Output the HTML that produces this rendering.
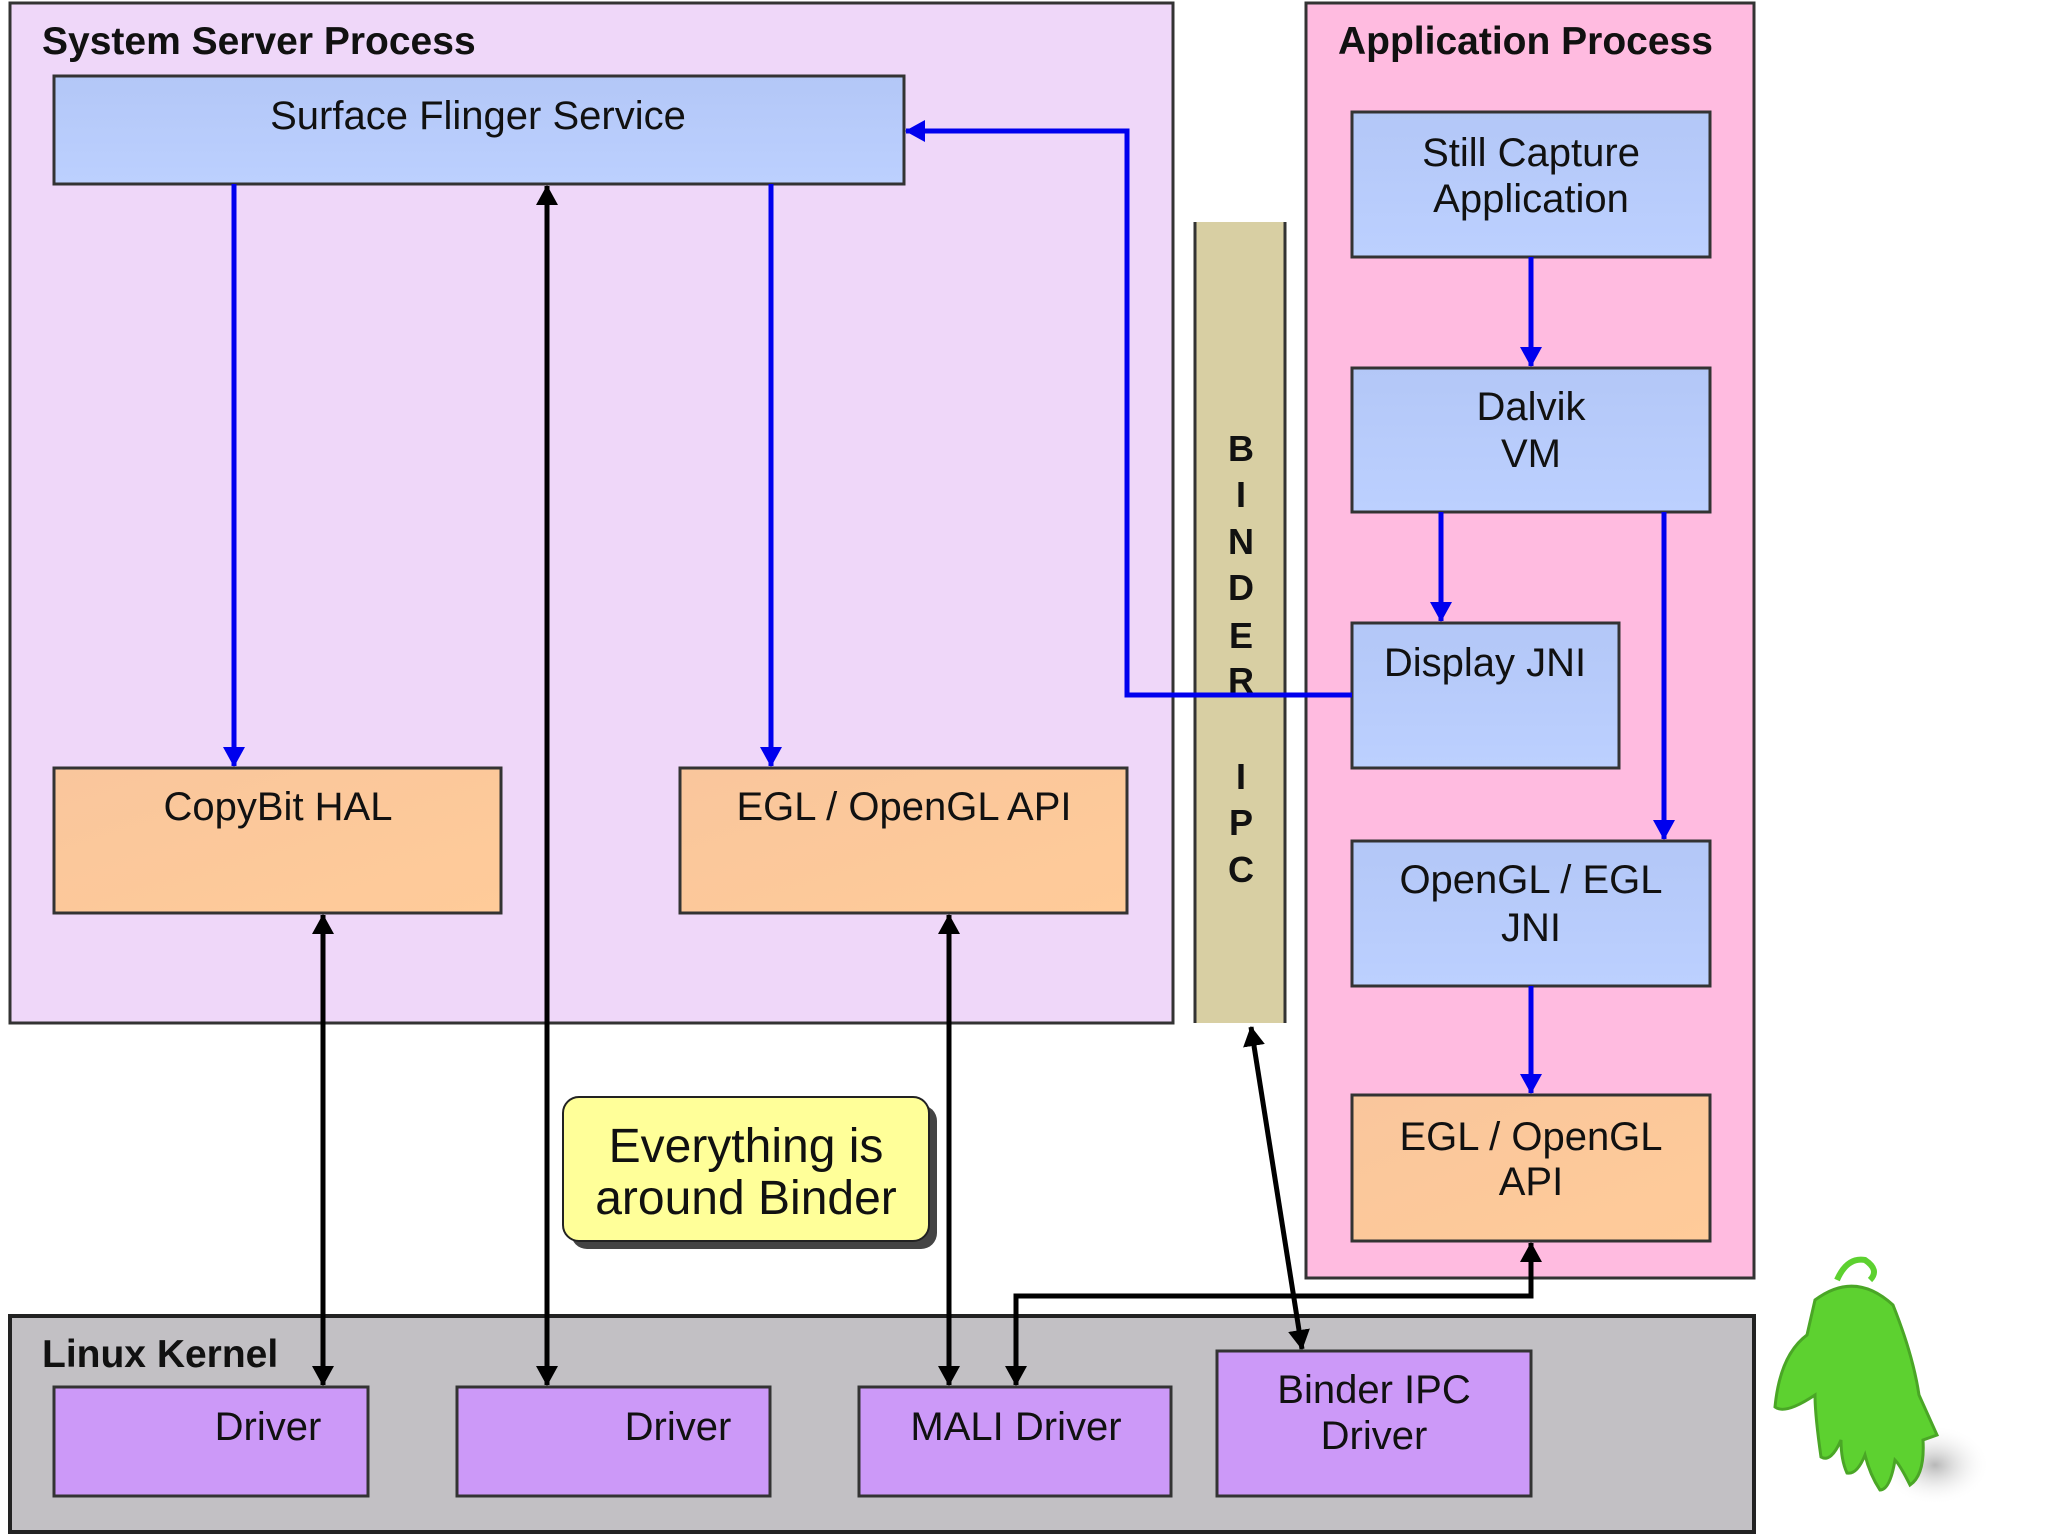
<!DOCTYPE html>
<html><head><meta charset="utf-8"><style>
html,body{margin:0;padding:0;background:#fff;}
svg{display:block;}
text{font-family:"Liberation Sans",sans-serif;fill:#111;}
</style></head><body>
<svg width="2048" height="1535" viewBox="0 0 2048 1535" xmlns="http://www.w3.org/2000/svg">
<defs>
<marker id="bh" markerWidth="20" markerHeight="22" refX="19" refY="11" orient="auto" markerUnits="userSpaceOnUse" viewBox="0 0 20 22"><path d="M0,0 L20,11 L0,22 z" fill="#0000ee"/></marker>
<marker id="kh" markerWidth="20" markerHeight="22" refX="19" refY="11" orient="auto-start-reverse" markerUnits="userSpaceOnUse" viewBox="0 0 20 22"><path d="M0,0 L20,11 L0,22 z" fill="#000"/></marker>
<linearGradient id="bl" x1="0" y1="0" x2="0" y2="1"><stop offset="0" stop-color="#b3c7f7"/><stop offset="1" stop-color="#bcd0ff"/></linearGradient>
<linearGradient id="or" x1="0" y1="0" x2="1" y2="1"><stop offset="0" stop-color="#f9c69c"/><stop offset="1" stop-color="#ffcb99"/></linearGradient>
<radialGradient id="sh"><stop offset="0" stop-color="#999" stop-opacity=".7"/><stop offset="1" stop-color="#fff" stop-opacity="0"/></radialGradient>
</defs>
<rect x="10" y="3" width="1163" height="1020" fill="#efd7f9" stroke="#333" stroke-width="3"/>
<text x="42" y="54" font-size="39" font-weight="bold">System Server Process</text>
<rect x="1306" y="3" width="448" height="1275" fill="#ffbbe0" stroke="#333" stroke-width="3"/>
<text x="1338" y="54" font-size="39" font-weight="bold">Application Process</text>
<rect x="10" y="1316" width="1744" height="216" fill="#c2c0c4" stroke="#222" stroke-width="4"/>
<text x="42" y="1367" font-size="39" font-weight="bold">Linux Kernel</text>
<rect x="1195" y="222" width="90" height="801" fill="#d8cfa3"/>
<line x1="1195" y1="222" x2="1195" y2="1023" stroke="#333" stroke-width="3"/>
<line x1="1285" y1="222" x2="1285" y2="1023" stroke="#333" stroke-width="3"/>
<g font-size="36" font-weight="bold" text-anchor="middle">
<text x="1241" y="461">B</text><text x="1241" y="507">I</text><text x="1241" y="554">N</text><text x="1241" y="600">D</text><text x="1241" y="648">E</text><text x="1241" y="693">R</text><text x="1241" y="789">I</text><text x="1241" y="835">P</text><text x="1241" y="882">C</text>
</g>
<g stroke="#333" stroke-width="3">
<rect x="54" y="76" width="850" height="108" fill="url(#bl)"/>
<rect x="54" y="768" width="447" height="145" fill="url(#or)"/>
<rect x="680" y="768" width="447" height="145" fill="url(#or)"/>
<rect x="1352" y="112" width="358" height="145" fill="url(#bl)"/>
<rect x="1352" y="368" width="358" height="144" fill="url(#bl)"/>
<rect x="1352" y="623" width="267" height="145" fill="url(#bl)"/>
<rect x="1352" y="841" width="358" height="145" fill="url(#bl)"/>
<rect x="1352" y="1095" width="358" height="146" fill="url(#or)"/>
<rect x="54" y="1387" width="314" height="109" fill="#cc99f8"/>
<rect x="457" y="1387" width="313" height="109" fill="#cc99f8"/>
<rect x="859" y="1387" width="312" height="109" fill="#cc99f8"/>
<rect x="1217" y="1351" width="314" height="145" fill="#cc99f8"/>
</g>
<rect x="571" y="1105" width="366" height="144" rx="16" fill="#444"/>
<rect x="563" y="1097" width="366" height="144" rx="16" fill="#ffff99" stroke="#222" stroke-width="2"/>
<g font-size="48" text-anchor="middle"><text x="746" y="1162">Everything is</text><text x="746" y="1214">around Binder</text></g>
<g font-size="40" text-anchor="middle">
<text x="478" y="129">Surface Flinger Service</text>
<text x="278" y="820">CopyBit HAL</text>
<text x="904" y="820">EGL / OpenGL API</text>
<text x="1531" y="166">Still Capture</text><text x="1531" y="212">Application</text>
<text x="1531" y="420">Dalvik</text><text x="1531" y="467">VM</text>
<text x="1485" y="676">Display JNI</text>
<text x="1531" y="893">OpenGL / EGL</text><text x="1531" y="941">JNI</text>
<text x="1531" y="1150">EGL / OpenGL</text><text x="1531" y="1195">API</text>
<text x="268" y="1440">Driver</text>
<text x="678" y="1440">Driver</text>
<text x="1016" y="1440">MALI Driver</text>
<text x="1374" y="1403">Binder IPC</text><text x="1374" y="1449">Driver</text>
</g>
<g stroke="#0000ee" stroke-width="5" fill="none">
<line x1="234" y1="184" x2="234" y2="766" marker-end="url(#bh)"/>
<line x1="771" y1="184" x2="771" y2="766" marker-end="url(#bh)"/>
<polyline points="1352,695 1127,695 1127,131 906,131" marker-end="url(#bh)"/>
<line x1="1531" y1="257" x2="1531" y2="366" marker-end="url(#bh)"/>
<line x1="1441" y1="512" x2="1441" y2="621" marker-end="url(#bh)"/>
<line x1="1664" y1="512" x2="1664" y2="839" marker-end="url(#bh)"/>
<line x1="1531" y1="986" x2="1531" y2="1093" marker-end="url(#bh)"/>
</g>
<g stroke="#000" stroke-width="5" fill="none">
<line x1="547" y1="186" x2="547" y2="1385" marker-start="url(#kh)" marker-end="url(#kh)"/>
<line x1="323" y1="915" x2="323" y2="1385" marker-start="url(#kh)" marker-end="url(#kh)"/>
<line x1="949" y1="915" x2="949" y2="1385" marker-start="url(#kh)" marker-end="url(#kh)"/>
<line x1="1251" y1="1027" x2="1302" y2="1349" marker-start="url(#kh)" marker-end="url(#kh)"/>
<polyline points="1016,1385 1016,1296 1531,1296 1531,1243" marker-start="url(#kh)" marker-end="url(#kh)"/>
</g>
<ellipse cx="1935" cy="1465" rx="55" ry="40" fill="url(#sh)"/>
<path d="M1815,1300 Q1855,1270 1893,1305 Q1913,1355 1919,1395 L1937,1435 L1923,1440 Q1925,1475 1910,1485 Q1900,1465 1895,1460 Q1890,1490 1880,1490 Q1870,1475 1865,1455 Q1857,1475 1847,1473 Q1841,1460 1841,1440 Q1831,1463 1821,1457 Q1815,1415 1815,1395 Q1785,1415 1775,1407 Q1780,1355 1807,1335 Z" fill="#5dd130" stroke="#4aa626" stroke-width="3"/>
<path d="M1837,1280 Q1847,1257 1865,1260 Q1880,1270 1870,1280" fill="none" stroke="#5dd130" stroke-width="6"/>
</svg>
</body></html>
